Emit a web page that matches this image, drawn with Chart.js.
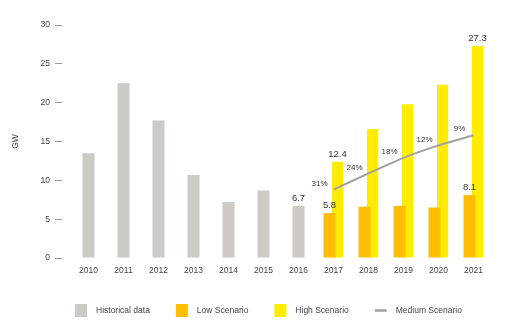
<!DOCTYPE html>
<html>
<head>
<meta charset="utf-8">
<script src="https://cdn.jsdelivr.net/npm/chart.js@4/dist/chart.umd.min.js"></script>
<style>
html,body{margin:0;padding:0;background:#fff}
</style>
</head>
<body>
<canvas id="myChart" width="520" height="333"></canvas>
<script>
// datos
const years = ["2010","2011","2012","2013","2014","2015","2016","2017","2018","2019","2020","2021"]
const historical = [13.5, 22.5, 17.7, 10.7, 7.2, 8.7, 6.7, null, null, null, null, null]
const lowScenario = [null, null, null, null, null, null, null, 5.8, 6.6, 6.7, 6.5, 8.1]
const highScenario = [null, null, null, null, null, null, null, 12.4, 16.6, 19.8, 22.3, 27.3]
const mediumScenario = [null, null, null, null, null, null, null, 8.8, 10.9, 12.9, 14.5, 15.8]
const growthLabels = ["31%", "24%", "18%", "12%", "9%"]
const labeledYears = ["2016", "2017", "2021"]
const yTicks = [0, 5, 10, 15, 20, 25, 30]

const fuente = '"Liberation Sans", Arial, sans-serif'

const etiquetas = {
    id: "etiquetas",
    afterDatasetsDraw(chart){
        const ctx = chart.ctx
        ctx.save()
        ctx.fillStyle = "#333"
        ctx.textAlign = "center"
        ctx.textBaseline = "bottom"
        ctx.font = "9.5px " + fuente
        chart.data.datasets.forEach((ds, i) => {
            if (ds.type === "line") return
            const meta = chart.getDatasetMeta(i)
            years.forEach((y, j) => {
                if (!labeledYears.includes(y) || ds.data[j] == null) return
                const bar = meta.data[j]
                ctx.fillText(ds.data[j].toFixed(1), bar.x, bar.y - 3)
            })
        })
        // porcentajes de crecimiento sobre la linea
        const idx = chart.data.datasets.findIndex(d => d.type === "line")
        const puntos = chart.getDatasetMeta(idx).data
        const primero = mediumScenario.findIndex(v => v != null)
        ctx.font = "8px " + fuente
        ctx.textBaseline = "middle"
        growthLabels.forEach((txt, k) => {
            const p = puntos[primero + k]
            ctx.fillText(txt, p.x - 14, p.y - 6)
        })
        ctx.restore()
    }
}

const leyenda = {
    id: "leyenda",
    afterDraw(chart){
        const ctx = chart.ctx
        const orden = ["Historical data", "Low Scenario", "High Scenario", "Medium Scenario"]
        let x = 75
        const yc = 310.5
        ctx.save()
        ctx.font = "8.5px " + fuente
        ctx.textBaseline = "middle"
        ctx.textAlign = "left"
        orden.forEach(nombre => {
            const ds = chart.data.datasets.find(d => d.label === nombre)
            if (ds.type === "line") {
                ctx.strokeStyle = ds.borderColor
                ctx.lineWidth = 2.5
                ctx.beginPath()
                ctx.moveTo(x, yc)
                ctx.lineTo(x + 12, yc)
                ctx.stroke()
            } else {
                ctx.fillStyle = ds.backgroundColor
                ctx.fillRect(x, yc - 6.5, 12, 13)
            }
            ctx.fillStyle = "#444"
            ctx.fillText(nombre, x + 21, yc)
            x += 21 + ctx.measureText(nombre).width + 26
        })
        ctx.restore()
    }
}

const config = {
    type: "bar",
    data: {
        labels: years,
        datasets: [
            {
                type: "line",
                label: "Medium Scenario",
                data: mediumScenario,
                borderColor: "#a3a09d",
                borderWidth: 2,
                pointRadius: 0,
                tension: 0.2,
                order: -1
            },
            {
                label: "Historical data",
                data: historical,
                backgroundColor: "#cdc9c5",
                categoryPercentage: 0.343,
                barPercentage: 1
            },
            {
                label: "Low Scenario",
                data: lowScenario,
                backgroundColor: "#ffbf00",
                categoryPercentage: 0.457,
                barPercentage: 1.5
            },
            {
                label: "High Scenario",
                data: highScenario,
                backgroundColor: "#ffec00",
                categoryPercentage: 0.457,
                barPercentage: 1.4
            }
        ]
    },
    options: {
        responsive: false,
        animation: false,
        layout: { padding: { left: 0, right: 29, top: 25, bottom: 45 } },
        datasets: { bar: { skipNull: true } },
        plugins: {
            legend: { display: false },
            tooltip: { enabled: false }
        },
        scales: {
            x: {
                grid: { display: false, drawTicks: false },
                border: { display: false },
                ticks: { color: "#444", font: { size: 8.5, family: fuente }, padding: 8 },
                afterFit(scale){ scale.height = 30 }
            },
            y: {
                min: 0,
                max: 30,
                afterBuildTicks(scale){ scale.ticks = yTicks.map(v => ({ value: v })) },
                grid: {
                    display: true,
                    drawOnChartArea: false,
                    drawTicks: true,
                    tickLength: 16,
                    tickColor: "#999",
                    tickWidth: 1,
                    tickBorderDash: [7, 30]
                },
                border: { display: false },
                ticks: { color: "#444", font: { size: 8.5, family: fuente }, padding: 5 },
                title: {
                    display: true,
                    text: "GW",
                    color: "#333",
                    font: { size: 8.5, family: fuente },
                    padding: { top: 11, bottom: 0 }
                },
                afterFit(scale){ scale.width = 71 }
            }
        }
    },
    plugins: [etiquetas, leyenda]
}

new Chart(document.getElementById("myChart"), config)
</script>
</body>
</html>
